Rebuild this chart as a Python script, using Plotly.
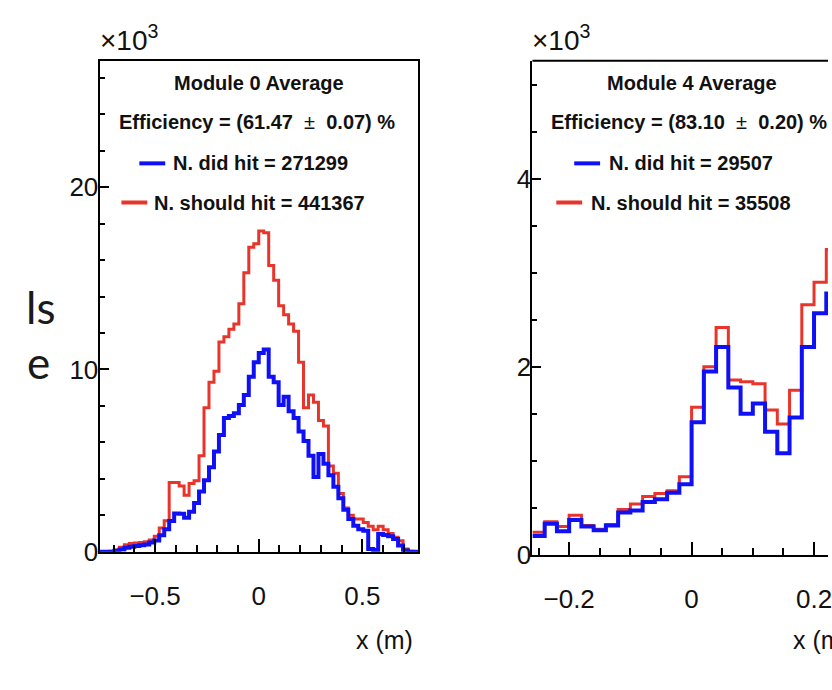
import numpy as np
import plotly.graph_objects as go

W, H = 832, 690

# ---------------- data (counts in units of 10^3) ----------------
# Module 0: 64 bins from -0.768 m to 0.768 m
m0_lo, m0_hi = -0.768, 0.768
m0_did = [0, 0, 0, 0.05, 0.12, 0.22, 0.28, 0.32, 0.36, 0.40,
          0.50, 0.62, 0.90, 1.24, 1.68, 2.10, 2.08, 1.86, 2.20, 2.67,
          3.30, 3.92, 4.64, 5.50, 6.40, 7.33, 7.45, 7.60, 8.05, 8.60,
          9.60, 10.4, 10.9, 11.1, 9.60, 9.30, 8.05, 8.50, 7.70, 7.33,
          6.60, 6.08, 5.27, 4.10, 5.36, 4.82, 4.20, 3.57, 2.94, 2.30,
          1.80, 1.42, 1.24, 1.15, 0.15, 0.10, 0.97, 0.92, 0.85, 0.70,
          0.34, 0.07, 0, 0]
m0_should = [0, 0, 0.02, 0.10, 0.25, 0.38, 0.45, 0.48, 0.50, 0.55,
             0.65, 0.85, 1.30, 1.70, 3.80, 3.80, 3.60, 3.10, 3.75, 3.90,
             5.27, 7.90, 9.30, 9.90, 11.5, 11.8, 12.2, 12.5, 13.6, 15.3,
             16.7, 16.9, 17.6, 17.5, 15.7, 14.9, 13.5, 13.0, 12.5, 12.1,
             10.4, 7.90, 8.60, 8.20, 7.20, 6.90, 4.70, 4.30, 3.20, 2.40,
             2.00, 1.80, 1.80, 1.60, 1.40, 1.20, 1.40, 1.20, 1.00, 0.80,
             0.60, 0.15, 0.02, 0]

# Module 4: bins of 0.02 m starting at -0.26 m (visible part)
m4_lo, m4_bw = -0.26, 0.02
m4_did = [0.20, 0.33, 0.25, 0.37, 0.30, 0.26, 0.31, 0.45, 0.47, 0.56,
          0.59, 0.66, 0.75, 1.41, 1.95, 2.21, 1.78, 1.50, 1.61, 1.31,
          1.08, 1.46, 2.21, 2.57, 2.78]
m4_should = [0.24, 0.35, 0.30, 0.42, 0.31, 0.27, 0.32, 0.48, 0.54, 0.62,
             0.65, 0.68, 0.83, 1.57, 2.00, 2.42, 1.86, 1.84, 1.82, 1.54,
             1.39, 1.75, 2.66, 2.90, 3.25]

titles = ["Module 0 Average", "Module 4 Average"]
eff_val = ["61.47", "83.10"]
eff_err = ["0.07", "0.20"]
n_did = [271299, 29507]
n_should = [441367, 35508]

x_ticks = [[-0.5, 0, 0.5], [-0.2, 0, 0.2]]
x_ticktext = [["−0.5", "0", "0.5"], ["−0.2", "0", "0.2"]]
y_ticks = [[0, 10, 20], [0, 2, 4]]

BLUE = "#1010f5"
RED = "#e8342a"
FONT = "Liberation Sans"


def px(x):
    return x / W


def py(y):
    return 1 - y / H


def step_xy(lo, bw, vals):
    edges = lo + bw * np.arange(len(vals) + 1)
    return edges, list(vals) + [vals[-1]]


fig = go.Figure()

m0_bw = (m0_hi - m0_lo) / len(m0_did)
for vals, col, w in [(m0_should, RED, 3), (m0_did, BLUE, 4)]:
    ex, ey = step_xy(m0_lo, m0_bw, vals)
    fig.add_trace(go.Scatter(x=ex, y=ey, mode="lines", line=dict(color=col, width=w, shape="hv"),
                             xaxis="x", yaxis="y", showlegend=False, hoverinfo="skip"))
for vals, col, w in [(m4_should, RED, 3), (m4_did, BLUE, 4)]:
    ex, ey = step_xy(m4_lo, m4_bw, vals)
    fig.add_trace(go.Scatter(x=ex, y=ey, mode="lines", line=dict(color=col, width=w, shape="hv"),
                             xaxis="x2", yaxis="y2", showlegend=False, hoverinfo="skip"))

tickfont = dict(family=FONT, size=26, color="#111")


def xax(domain, rng, i, mirror, anchor):
    return dict(domain=domain, range=rng, tickvals=x_ticks[i], ticktext=x_ticktext[i], anchor=anchor,
                ticks="inside", ticklen=13, tickwidth=2, tickcolor="black",
                showline=True, linewidth=2, linecolor="black", mirror=mirror,
                showgrid=False, zeroline=False, tickfont=tickfont, ticklabelstandoff=20,
                ticklabeloverflow="allow",
                minor=dict(dtick=[0.1, 0.05][i], tick0=0, ticks="inside", ticklen=7,
                           tickwidth=1.5, tickcolor="black", showgrid=False))


def yax(domain, rng, i, anchor, mirror):
    return dict(domain=domain, range=rng, tickvals=y_ticks[i], anchor=anchor,
                ticks="inside", ticklen=9, tickwidth=2, tickcolor="black",
                showline=True, linewidth=2, linecolor="black", mirror=mirror,
                showgrid=False, zeroline=False, tickfont=tickfont, ticklabelstandoff=-6,
                minor=dict(dtick=[2, 0.5][i], tick0=0, ticks="inside", ticklen=5,
                           tickwidth=1.5, tickcolor="black", showgrid=False))


fig.update_layout(
    width=W, height=H, margin=dict(l=0, r=0, t=0, b=0),
    paper_bgcolor="white", plot_bgcolor="white",
    xaxis=xax([px(100), px(420)], [m0_lo, m0_hi], 0, True, "y"),
    yaxis=yax([py(564), py(62)], [0, 26.94], 0, "x", True),
    xaxis2=xax([px(535), 1.0], [-0.26, 0.2228], 1, False, "y2"),
    yaxis2=yax([py(567), py(62)], [0, 5.26], 1, "x2", False),
)

shapes = [dict(type="line", xref="paper", yref="paper", x0=px(535), x1=1.0, y0=py(62), y1=py(62),
               line=dict(color="black", width=2))]

ann = []
# panel decorations
for i, (xl, xc, xt_anchor, xt_x) in enumerate([(100, 260, "right", 417), (535, 695, "left", 795)]):
    ann.append(dict(text="×10<sup>3</sup>", x=px(xl - 2), y=py(59), xanchor="left", yanchor="bottom",
                    font=dict(family=FONT, size=28, color="#111")))
    ann.append(dict(text="x (m)", x=px(xt_x), y=py(654), xanchor=xt_anchor, yanchor="middle",
                    font=dict(family=FONT, size=25, color="#111")))
    ann.append(dict(text="<b>%s</b>" % titles[i], x=px(xc), y=py(85), xanchor="center", yanchor="middle",
                    font=dict(family=FONT, size=20, color="#111")))

bf = dict(family=FONT, size=20, color="#111")
ann.append(dict(text="<b>Efficiency = (%s </b> ± <b> %s) %%</b>" % (eff_val[0], eff_err[0]),
                x=px(258), y=py(125), xanchor="center", yanchor="middle", font=bf))
ann.append(dict(text="<b>Efficiency = (%s </b> ± <b> %s) %%</b>" % (eff_val[1], eff_err[1]),
                x=px(552), y=py(125), xanchor="left", yanchor="middle", font=bf))

leg_pos = [(140, 172, 122, 153), (577, 610, 559, 592)]
for i, (lx_b, tx_b, lx_r, tx_r) in enumerate(leg_pos):
    ann.append(dict(text="<b>N. did hit = %d</b>" % n_did[i], x=px(tx_b), y=py(167), xanchor="left",
                    yanchor="middle", font=bf))
    ann.append(dict(text="<b>N. should hit = %d</b>" % n_should[i], x=px(tx_r), y=py(208), xanchor="left",
                    yanchor="middle", font=bf))
    shapes.append(dict(type="line", xref="paper", yref="paper", x0=px(lx_b), x1=px(lx_b + 26),
                       y0=py(167), y1=py(167), line=dict(color=BLUE, width=4)))
    shapes.append(dict(type="line", xref="paper", yref="paper", x0=px(lx_r), x1=px(lx_r + 26),
                       y0=py(207), y1=py(207), line=dict(color=RED, width=4)))

# slide text fragments at the left edge
ann.append(dict(text="ls", x=px(57), y=py(314), xanchor="right", yanchor="middle",
                font=dict(family="Lato", size=44, color="#1a1a1a")))
ann.append(dict(text="e", x=px(52), y=py(370), xanchor="right", yanchor="middle",
                font=dict(family="Lato", size=44, color="#1a1a1a")))

for a in ann:
    a.update(xref="paper", yref="paper", showarrow=False)

fig.update_layout(annotations=ann, shapes=shapes)
fig.write_html("out.html")
